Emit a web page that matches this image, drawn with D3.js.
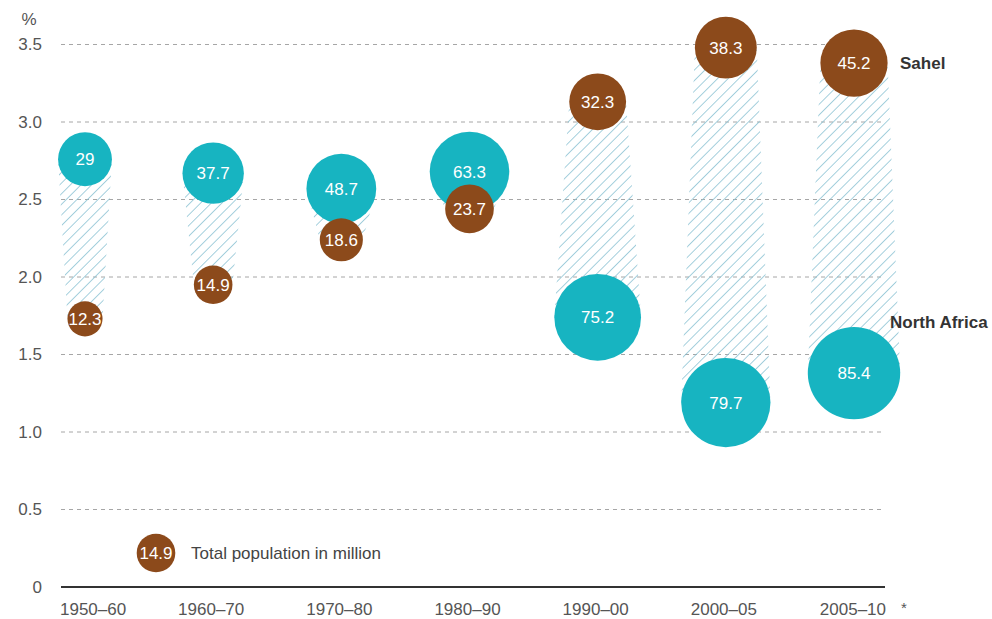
<!DOCTYPE html>
<html>
<head>
<meta charset="utf-8">
<script src="https://cdn.jsdelivr.net/npm/d3@7"></script>
<style>
  body { margin: 0; background: #fff; }
  text { font-family: "Liberation Sans", Arial, Helvetica, sans-serif; }
</style>
</head>
<body>
<script>
// data
var periods = ["1950–60", "1960–70", "1970–80", "1980–90", "1990–00", "2000–05", "2005–10"];
var northAfricaRate = [2.76, 2.67, 2.57, 2.68, 1.74, 1.19, 1.38];
var northAfricaPop = ["29", "37.7", "48.7", "63.3", "75.2", "79.7", "85.4"];
var sahelRate = [1.73, 1.95, 2.24, 2.44, 3.13, 3.48, 3.38];
var sahelPop = ["12.3", "14.9", "18.6", "23.7", "32.3", "38.3", "45.2"];
var yTicks = [0, 0.5, 1.0, 1.5, 2.0, 2.5, 3.0, 3.5];

var width = 992, height = 619;
var teal = "#17b4c1", brown = "#8c4a1b";

var svg = d3.select("body").append("svg")
    .attr("width", width)
    .attr("height", height);

// hatch pattern
var pat = svg.append("defs").append("pattern")
    .attr("id", "hatch")
    .attr("patternUnits", "userSpaceOnUse")
    .attr("width", 7.5)
    .attr("height", 7.5)
    .attr("patternTransform", "rotate(45)");
pat.append("line")
    .attr("x1", 0).attr("y1", 0).attr("x2", 0).attr("y2", 7.5)
    .attr("stroke", "#88c0d2")
    .attr("stroke-width", 1.5);

var x = d3.scalePoint()
    .domain(periods)
    .range([85, 854]);

var y = d3.scaleLinear()
    .domain([0, 3.5])
    .range([587, 44.5]);

var r = d3.scaleSqrt()
    .domain([0, 100])
    .range([0, 50]);

// grid
svg.append("g")
  .selectAll("line")
  .data(yTicks.filter(function(d) { return d > 0; }))
  .enter().append("line")
    .attr("x1", 61)
    .attr("x2", 885)
    .attr("y1", function(d) { return y(d); })
    .attr("y2", function(d) { return y(d); })
    .attr("stroke", "#a6a6a6")
    .attr("stroke-width", 1)
    .attr("stroke-dasharray", "4,4");

// y labels
svg.append("g")
  .selectAll("text")
  .data(yTicks)
  .enter().append("text")
    .attr("x", 42)
    .attr("y", function(d) { return y(d); })
    .attr("dy", "0.35em")
    .attr("text-anchor", "end")
    .attr("font-size", 17)
    .attr("fill", "#555")
    .text(function(d) { return d === 0 ? "0" : d3.format(".1f")(d); });

svg.append("text")
    .attr("x", 29).attr("y", 25)
    .attr("text-anchor", "middle")
    .attr("font-size", 17)
    .attr("fill", "#555")
    .text("%");

// x axis
svg.append("line")
    .attr("x1", 61).attr("x2", 885)
    .attr("y1", y(0)).attr("y2", y(0))
    .attr("stroke", "#333")
    .attr("stroke-width", 2);

svg.append("g")
  .selectAll("text")
  .data(periods)
  .enter().append("text")
    .attr("x", function(d, i) { return i === 0 ? 60 : (i === periods.length - 1 ? 886 : x(d) - 2); })
    .attr("y", 615)
    .attr("text-anchor", function(d, i) { return i === 0 ? "start" : (i === periods.length - 1 ? "end" : "middle"); })
    .attr("font-size", 17)
    .attr("fill", "#555")
    .text(function(d) { return d; });

svg.append("text")
    .attr("x", 904).attr("y", 613)
    .attr("text-anchor", "middle")
    .attr("font-size", 15)
    .attr("fill", "#555")
    .text("*");

// hatched band between the two series, tapering with bubble size
svg.append("g")
  .selectAll("path")
  .data(periods)
  .enter().append("path")
    .attr("d", function(d, i) {
      var cx = x(d);
      var yA = y(northAfricaRate[i]), yS = y(sahelRate[i]);
      var wA = r(+northAfricaPop[i]), wS = r(+sahelPop[i]);
      return d3.line()([[cx - wA, yA], [cx + wA, yA], [cx + wS, yS], [cx - wS, yS]]) + "Z";
    })
    .attr("fill", "url(#hatch)");

function bubbles(rates, pops, color) {
  var g = svg.append("g")
    .selectAll("g")
    .data(periods)
    .enter().append("g")
      .attr("transform", function(d, i) { return "translate(" + x(d) + "," + y(rates[i]) + ")"; });
  g.append("circle")
      .attr("r", function(d, i) { return r(+pops[i]); })
      .attr("fill", color);
  g.append("text")
      .attr("dy", "0.36em")
      .attr("text-anchor", "middle")
      .attr("font-size", 17)
      .attr("fill", "#fff")
      .text(function(d, i) { return pops[i]; });
}
bubbles(northAfricaRate, northAfricaPop, teal);
bubbles(sahelRate, sahelPop, brown);

// series labels
svg.append("text")
    .attr("x", 900).attr("y", y(sahelRate[6]))
    .attr("dy", "0.35em")
    .attr("font-size", 17)
    .attr("font-weight", "bold")
    .attr("fill", "#333")
    .text("Sahel");

svg.append("text")
    .attr("x", 890).attr("y", 322)
    .attr("dy", "0.35em")
    .attr("font-size", 17)
    .attr("font-weight", "bold")
    .attr("fill", "#333")
    .text("North Africa");

// legend
var leg = svg.append("g").attr("transform", "translate(156,553)");
leg.append("circle")
    .attr("r", r(14.9))
    .attr("fill", brown);
leg.append("text")
    .attr("dy", "0.36em")
    .attr("text-anchor", "middle")
    .attr("font-size", 17)
    .attr("fill", "#fff")
    .text("14.9");
leg.append("text")
    .attr("x", 35)
    .attr("dy", "0.35em")
    .attr("font-size", 17)
    .attr("fill", "#444")
    .text("Total population in million");
</script>
</body>
</html>
